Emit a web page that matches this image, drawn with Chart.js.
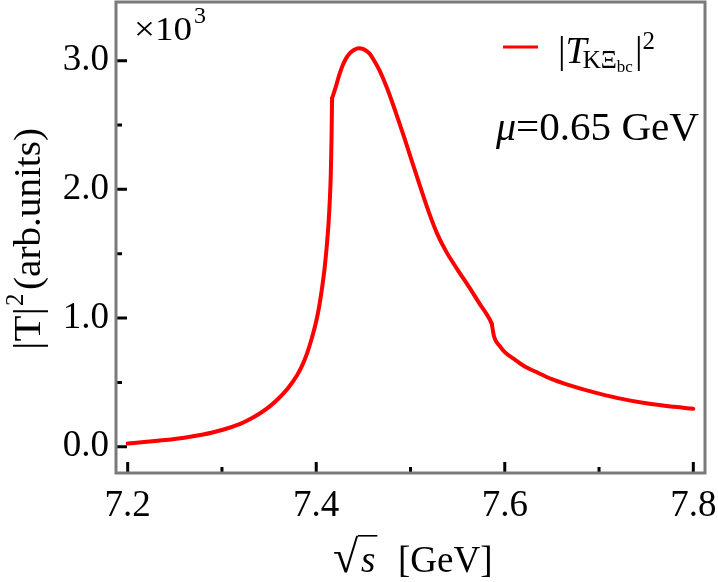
<!DOCTYPE html>
<html>
<head>
<meta charset="utf-8">
<script src="https://cdn.jsdelivr.net/npm/chart.js@4"></script>
<style>
  html, body { margin: 0; padding: 0; background: #fff; }
  #wrap { width: 718px; height: 582px; }
</style>
</head>
<body>
<div id="wrap"><canvas id="plot" width="718" height="582"></canvas></div>
<script>
// values: sqrt(s) in GeV, |T|^2 in arb. units
const sqrtS = [7.20, 7.22, 7.24, 7.26, 7.28, 7.30, 7.32, 7.33, 7.34, 7.35, 7.36, 7.37, 7.38, 7.385,
  7.39, 7.395, 7.40, 7.403, 7.406, 7.409, 7.411, 7.413, 7.4145, 7.4155, 7.4162, 7.4168,
  7.4205, 7.4247, 7.428, 7.4317, 7.436, 7.440, 7.445, 7.450, 7.4564, 7.4615, 7.467, 7.475,
  7.4847, 7.4935, 7.5022, 7.511, 7.5199, 7.528, 7.5376, 7.55, 7.5622, 7.5734, 7.5834, 7.5862,
  7.5887, 7.595, 7.60, 7.61, 7.62, 7.635, 7.65, 7.67, 7.69, 7.72, 7.75, 7.78, 7.80];
const tSquared = [26, 38, 52, 70, 95, 130, 180, 215, 258, 310, 375, 455, 560, 630,
  720, 835, 975, 1085, 1225, 1395, 1545, 1730, 1930, 2130, 2380, 2707,
  2790, 2895, 2962, 3018, 3060, 3083, 3096, 3090, 3057, 3000, 2927, 2790,
  2591, 2400, 2202, 2005, 1813, 1660, 1520, 1375, 1240, 1110, 998, 955,
  855, 780, 735, 680, 630, 575, 525, 475, 432, 378, 338, 310, 295];
// threshold cusps where the curve has a corner
const cusps = [7.4168, 7.5862];

const xMajor = [7.2, 7.4, 7.6, 7.8];
const xMinor = [7.3, 7.5, 7.7];
const yMajor = [0, 1000, 2000, 3000];
const yMinor = [500, 1500, 2500];

const serif = '"Liberation Serif", "Times New Roman", serif';

// draw text stretched horizontally to a given width
function fitText(ctx, str, x, y, w) {
  const m = ctx.measureText(str).width;
  ctx.save();
  ctx.translate(x, y);
  ctx.scale(w / m, 1);
  ctx.fillText(str, 0, 0);
  ctx.restore();
}

// frame + inward tick marks
const frameTicks = {
  id: 'frameTicks',
  afterDraw(chart) {
    const { ctx, chartArea: a, scales: { x, y } } = chart;
    ctx.save();
    ctx.strokeStyle = '#000';
    ctx.lineWidth = 3;
    ctx.beginPath();
    xMajor.concat(xMinor).forEach(v => {
      const px = x.getPixelForValue(v);
      const len = xMajor.includes(v) ? 11 : 6;
      ctx.moveTo(px, a.bottom);
      ctx.lineTo(px, a.bottom - len);
    });
    yMajor.concat(yMinor).forEach(v => {
      const py = y.getPixelForValue(v);
      const len = yMajor.includes(v) ? 11 : 6;
      ctx.moveTo(a.left, py);
      ctx.lineTo(a.left + len, py);
    });
    ctx.stroke();
    ctx.strokeStyle = '#7a7a7a';
    ctx.lineWidth = 3;
    ctx.strokeRect(a.left, a.top, a.right - a.left, a.bottom - a.top);
    ctx.restore();
  }
};

// texts: axis titles, legend, labels
const texts = {
  id: 'texts',
  afterDraw(chart) {
    const { ctx } = chart;
    ctx.save();
    ctx.fillStyle = '#000';
    ctx.textBaseline = 'alphabetic';
    ctx.textAlign = 'left';

    // x10^3
    ctx.font = '34px ' + serif;
    fitText(ctx, '\u00d710', 134, 40, 58);
    ctx.font = '24px ' + serif;
    ctx.fillText('3', 194, 23);

    // legend
    ctx.strokeStyle = '#ff0000';
    ctx.lineWidth = 3;
    ctx.beginPath();
    ctx.moveTo(503, 47);
    ctx.lineTo(538, 47);
    ctx.stroke();
    let cx = 558;
    const base = 63;
    ctx.font = '38px ' + serif;
    ctx.fillText('|', cx, base);
    cx += ctx.measureText('|').width;
    ctx.font = 'italic 38px ' + serif;
    ctx.fillText('T', cx, base);
    cx += ctx.measureText('T').width - 4;
    ctx.font = '25px ' + serif;
    ctx.fillText('K\u039e', cx, base + 5);
    cx += ctx.measureText('K\u039e').width;
    ctx.font = '17px ' + serif;
    ctx.fillText('bc', cx, base + 9);
    cx += ctx.measureText('bc').width + 2;
    ctx.font = '38px ' + serif;
    ctx.fillText('|', cx, base);
    cx += ctx.measureText('|').width;
    ctx.font = '25px ' + serif;
    ctx.fillText('2', cx, base - 14);

    // mu label
    cx = 496;
    ctx.font = 'italic 40px ' + serif;
    ctx.fillText('\u03bc', cx, 140);
    cx += ctx.measureText('\u03bc').width;
    ctx.font = '40px ' + serif;
    fitText(ctx, '=0.65 GeV', cx, 140, 699 - cx);

    // x title: tall radical with an overbar covering the s
    const xb = 572;
    ctx.font = '46px ' + serif;
    const rm = ctx.measureText('\u221a');
    const rTop = 535;
    const rBase = rTop + rm.actualBoundingBoxAscent;
    ctx.fillText('\u221a', 333 - rm.actualBoundingBoxLeft * 0, rBase);
    const rRight = 333 + rm.actualBoundingBoxRight;
    ctx.font = 'italic 37px ' + serif;
    const sw = ctx.measureText('s').width;
    ctx.fillText('s', rRight + 2, xb);
    ctx.lineWidth = 1.6;
    ctx.strokeStyle = '#000';
    ctx.beginPath();
    ctx.moveTo(rRight - 1, rTop + 0.8);
    ctx.lineTo(rRight + sw + 4, rTop + 0.8);
    ctx.stroke();
    ctx.font = '37px ' + serif;
    ctx.fillText('[GeV]', 398, xb);

    // y title (rotated)
    ctx.translate(40, 350);
    ctx.rotate(-Math.PI / 2);
    ctx.font = '38px ' + serif;
    fitText(ctx, '|T|', 0, 0, 43);
    ctx.font = '25px ' + serif;
    ctx.fillText('2', 44, -17);
    ctx.font = '38px ' + serif;
    fitText(ctx, '(arb.units)', 60, 0, 162);
    ctx.restore();
  }
};

// split the curve at the cusps so the smoothing keeps the corners sharp
const points = sqrtS.map((s, i) => ({ x: s, y: tSquared[i] }));
const bounds = [sqrtS[0]].concat(cusps, [sqrtS[sqrtS.length - 1]]);
const pieces = bounds.slice(1).map((hi, k) =>
  points.filter(p => p.x >= bounds[k] && p.x <= hi));

new Chart(document.getElementById('plot'), {
  type: 'scatter',
  data: {
    datasets: pieces.map(piece => ({
      label: '|T|^2',
      data: piece,
      showLine: true,
      borderColor: '#ff0000',
      borderWidth: 4,
      borderCapStyle: 'round',
      pointRadius: 0,
      cubicInterpolationMode: 'monotone',
      fill: false
    }))
  },
  options: {
    responsive: false,
    animation: false,
    layout: { padding: { top: 2, right: 13, left: 0, bottom: 0 } },
    plugins: {
      legend: { display: false },
      tooltip: { enabled: false }
    },
    scales: {
      x: {
        type: 'linear',
        min: 7.1876,
        max: 7.8124,
        grid: { display: false, drawTicks: false },
        border: { display: false },
        afterBuildTicks: axis => { axis.ticks = xMajor.map(v => ({ value: v })); },
        afterFit: scale => { scale.height = 109; scale.paddingLeft = 0; scale.paddingRight = 0; },
        ticks: {
          padding: 11,
          color: '#000',
          font: { family: serif, size: 37 },
          callback: v => v.toFixed(1)
        }
      },
      y: {
        type: 'linear',
        min: -204,
        max: 3456,
        grid: { display: false, drawTicks: false },
        border: { display: false },
        afterBuildTicks: axis => { axis.ticks = yMajor.map(v => ({ value: v })); },
        afterFit: scale => { scale.width = 116; scale.paddingTop = 0; scale.paddingBottom = 0; },
        ticks: {
          padding: 7,
          color: '#000',
          font: { family: serif, size: 37 },
          callback: v => (v / 1000).toFixed(1)
        }
      }
    }
  },
  plugins: [frameTicks, texts]
});
</script>
</body>
</html>
